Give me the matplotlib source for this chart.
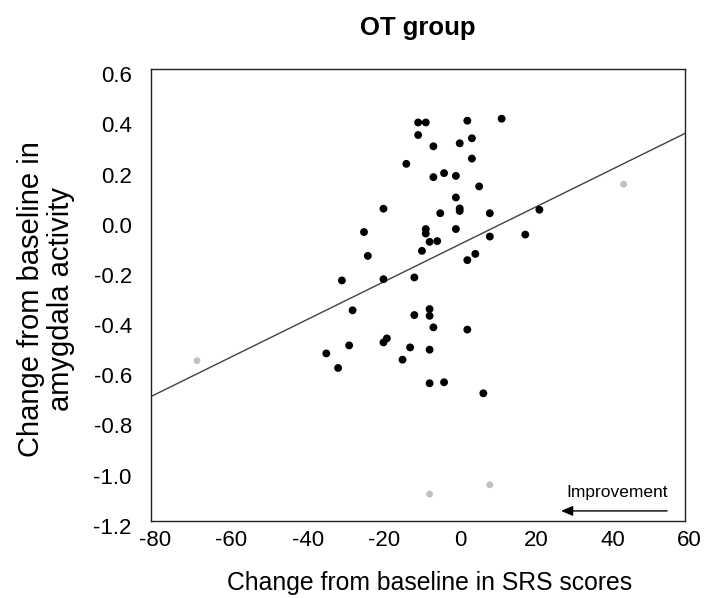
import matplotlib
matplotlib.use("Agg")
import matplotlib.pyplot as plt
from matplotlib.transforms import ScaledTranslation
import numpy as np

plt.rcParams['font.family'] = ['Liberation Sans', 'DejaVu Sans']
plt.rcParams['axes.unicode_minus'] = False

# ---- data ----
title = "OT group"
x_label = "Change from baseline in SRS scores"
y_label = "Change from baseline in\namygdala activity"

black_x = [-10.0, -8.0, 2.9, 11.9, -10.0, 4.1, -6.0, 0.9, 4.1, -13.1,
           -3.2, -6.0, -0.1, 6.0, -0.1, 0.9, 0.9, -19.1, -4.2, 8.8,
           21.8, -24.2, -8.0, -8.0, -0.1, 18.1, 8.8, -7.0, -5.0, -23.2,
           -9.0, 5.0, 2.9, -30.0, -19.1, -11.0, -27.2, -7.0, -7.0, -11.0,
           -6.0, 2.9, -28.1, -19.1, -18.2, -34.1, -12.1, -7.0, -31.0, -14.1,
           -7.0, -3.2, 7.1]
black_y = [0.388, 0.388, 0.395, 0.403, 0.338, 0.325, 0.293, 0.305, 0.244, 0.223,
           0.186, 0.170, 0.175, 0.133, 0.089, 0.045, 0.035, 0.044, 0.026, 0.026,
           0.040, -0.049, -0.037, -0.055, -0.037, -0.059, -0.067, -0.088, -0.085, -0.144,
           -0.124, -0.136, -0.161, -0.242, -0.237, -0.230, -0.361, -0.356, -0.383, -0.380,
           -0.429, -0.438, -0.501, -0.489, -0.473, -0.533, -0.509, -0.518, -0.591, -0.558,
           -0.652, -0.648, -0.692]

gray_x = [-68.0, 43.9, -7.0, 8.8]
gray_y = [-0.562, 0.142, -1.094, -1.057]

trend_slope = 0.00749
trend_intercept = -0.105

x_ticks = [-80, -60, -40, -20, 0, 20, 40, 60]
x_tick_labels = ["-80", "-60", "-40", "-20", "0", "20", "40", "60"]
y_ticks = [0.6, 0.4, 0.2, 0.0, -0.2, -0.4, -0.6, -0.8, -1.0, -1.2]
y_tick_labels = ["0.6", "0.4", "0.2", "0.0", "-0.2", "-0.4", "-0.6", "-0.8", "-1.0", "-1.2"]

annot_text = "Improvement"
arrow_start = (55.3, -1.161)
arrow_end = (27.5, -1.161)
annot_pos = (55.6, -1.086)

# ---- figure ----
W, H = 705, 598
fig = plt.figure(figsize=(W / 100, H / 100), dpi=100)
ax = fig.add_axes([151.3 / W, 1 - 520.7 / H, (685 - 151.3) / W, (520.7 - 69.3) / H])

ax.set_xlim(-80, 60)
ax.set_ylim(-1.2, 0.6)

# trend line
xs = np.array([-80, 60])
ax.plot(xs, trend_slope * xs + trend_intercept, color='#404040', lw=1.0, zorder=2)

ax.scatter(gray_x, gray_y, s=24, color='#c0c0c0', edgecolors='none', zorder=3)
ax.scatter(black_x, black_y, s=32, color='black', edgecolors='none', zorder=4)

ax.set_xticks(x_ticks)
ax.set_xticklabels(x_tick_labels)
ax.set_yticks(y_ticks)
ax.set_yticklabels(y_tick_labels)
ax.tick_params(axis='both', length=0, labelsize=16, colors='black')
ax.tick_params(axis='x', pad=7)
ax.tick_params(axis='y', pad=14)

for lab in ax.get_xticklabels():
    lab.set_transform(lab.get_transform() + ScaledTranslation(4 / 100, 0, fig.dpi_scale_trans))
for lab in ax.get_yticklabels():
    lab.set_transform(lab.get_transform() + ScaledTranslation(0, -5 / 100, fig.dpi_scale_trans))

for sp in ax.spines.values():
    sp.set_color('#202020')
    sp.set_linewidth(1.0)

# annotation
ax.annotate("", xy=arrow_end, xytext=arrow_start,
            arrowprops=dict(arrowstyle='-|>,head_length=0.7,head_width=0.3',
                            color='black', lw=1.0, shrinkA=0, shrinkB=0))
ax.text(annot_pos[0], annot_pos[1], annot_text, ha='right', va='center', fontsize=12.5)

# labels & title
fig.text(418 / W, 1 - 28 / H, title, ha='center', va='center', fontsize=18.5, fontweight='bold')
fig.text(430 / W, 1 - 583 / H, x_label, ha='center', va='center', fontsize=17.8)
fig.text(46 / W, 1 - 299 / H, y_label, ha='center', va='center', fontsize=21,
         rotation=90, linespacing=1.08, multialignment='center')

fig.savefig("out.png", dpi=100)
